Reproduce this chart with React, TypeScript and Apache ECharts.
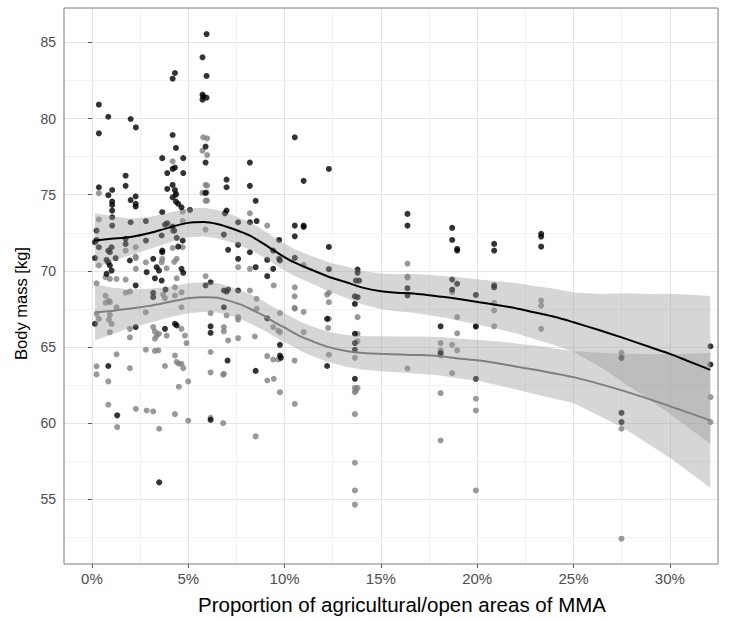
import React, { useEffect, useRef } from 'react';
import * as echarts from 'echarts';

// Axis breaks
const xTicks = [0, 5, 10, 15, 20, 25, 30];
const yTicks = [55, 60, 65, 70, 75, 80, 85];
const xMinor = [2.5, 7.5, 12.5, 17.5, 22.5, 27.5];
const yMinor = [52.5, 57.5, 62.5, 67.5, 72.5, 77.5, 82.5];

// Individual animals: [share of agricultural/open area (%), body mass (kg)]
const darkPoints: number[][] = [
  [5.95, 85.55], [5.74, 84.02], [4.31, 82.99], [5.95, 82.8], [4.19, 82.62], [5.74, 81.57], [5.78, 81.44], [5.95, 81.37], [5.74, 81.24],
  [0.36, 80.91], [0.85, 80.12], [2.01, 79.97], [2.28, 79.42], [0.36, 79.03], [4.19, 78.92], [10.53, 78.77], [5.9, 78.16], [4.36, 78.07],
  [3.65, 77.4], [4.74, 77.4], [5.9, 77.11], [8.2, 77.11], [4.31, 76.78], [4.19, 76.69], [12.3, 76.69], [3.91, 76.42], [4.74, 76.42], [1.75, 76.25],
  [6.99, 75.99], [10.99, 75.91], [4.19, 75.64], [1.75, 75.58], [8.2, 75.58], [0.36, 75.49], [6.99, 75.49], [3.91, 75.38], [1.05, 75.31], [4.31, 75.31],
  [5.9, 75.12], [4.36, 75.05], [0.85, 74.97], [2.27, 74.89], [4.19, 74.83], [2.01, 74.65], [8.5, 74.6], [1.05, 74.55], [4.36, 74.55], [2.27, 74.4], [4.48, 74.4], [1.05, 74.33], [2.27, 74.22], [4.65, 74.17],
  [5.09, 74.0], [1.05, 73.96], [6.99, 73.96], [3.65, 73.85], [6.9, 73.78], [1.05, 73.52], [2.8, 73.27], [8.55, 73.27], [2.01, 73.19], [7.59, 73.19], [8.2, 73.19], [3.91, 73.12], [3.79, 73.04], [1.05, 72.97], [10.53, 72.97], [10.99, 72.97], [4.19, 72.91], [10.99, 72.88],
  [0.24, 72.64], [4.27, 72.64], [6.85, 72.38], [3.62, 72.32], [10.53, 72.27], [4.4, 72.17], [1.75, 72.1], [0.24, 72.03], [9.72, 72.03], [2.8, 71.99], [4.71, 71.99], [0.16, 71.88], [1.75, 71.77], [7.59, 71.71], [4.48, 71.59], [12.3, 71.57], [0.36, 71.55], [1.02, 71.55], [7.07, 71.38], [3.65, 71.33], [0.85, 71.33], [9.41, 71.33], [3.65, 71.22], [8.2, 71.22], [0.93, 71.22],
  [10.53, 70.85], [0.16, 70.84], [1.23, 70.84], [3.18, 70.79], [7.59, 70.79], [9.72, 70.79], [0.76, 70.72], [9.1, 70.72], [1.97, 70.68], [9.76, 70.68], [0.85, 70.56], [0.93, 70.35], [3.36, 70.24], [8.5, 70.24], [4.65, 70.13], [9.41, 70.13], [12.3, 70.11], [13.79, 70.09], [1.02, 70.02], [3.48, 70.02],
  [2.84, 69.91], [4.74, 69.87], [13.79, 69.87], [0.76, 69.8], [9.1, 69.65], [3.27, 69.51], [3.62, 69.36], [13.7, 69.36], [13.87, 69.36], [6.16, 69.25], [2.27, 69.04], [5.9, 69.04], [3.82, 68.77], [7.07, 68.77], [6.85, 68.71], [7.59, 68.71], [6.99, 68.64], [3.18, 68.56], [13.65, 68.33], [3.18, 68.27], [13.79, 68.27],
  [13.65, 67.83], [6.85, 67.61], [9.1, 66.88], [12.21, 66.85], [0.16, 66.52], [4.31, 66.52], [4.4, 66.41], [6.16, 66.36], [2.27, 66.31], [3.79, 66.19], [6.16, 65.93], [13.65, 65.87], [13.65, 65.26], [9.76, 65.14], [13.65, 64.82], [9.76, 64.44], [9.81, 64.29], [7.04, 64.11], [0.85, 63.75], [12.21, 63.75], [8.5, 63.43], [13.65, 62.91], [1.31, 60.51], [6.16, 60.22], [3.49, 56.11],
  [16.38, 73.74], [16.38, 72.97], [16.38, 68.86], [16.38, 68.38],
  [18.7, 72.82], [18.7, 72.03], [18.96, 71.44], [18.96, 71.33], [18.7, 69.43], [18.96, 69.15], [18.7, 68.77], [19.93, 68.42], [18.1, 66.36], [19.93, 66.36], [18.1, 64.59], [19.93, 62.91],
  [20.88, 71.77], [20.88, 71.33], [20.88, 69.04], [20.88, 68.92],
  [23.32, 72.43], [23.32, 72.25], [23.32, 71.59],
  [27.49, 64.29], [27.49, 60.68], [27.49, 60.07],
  [32.11, 65.05], [32.11, 63.85],
];

const lightPoints: number[][] = [
  [5.78, 78.77], [5.98, 78.7], [5.74, 77.89], [5.98, 77.6], [4.19, 77.19], [5.9, 75.64], [5.98, 75.6], [0.36, 75.1], [5.74, 75.12], [5.95, 75.14], [4.36, 74.97], [5.98, 74.61], [5.9, 74.61], [4.71, 73.89], [8.2, 73.78], [0.36, 73.37], [4.71, 73.27], [9.1, 72.97], [5.9, 72.71], [4.19, 72.64],
  [4.71, 71.55], [2.27, 71.55], [4.19, 71.5], [1.75, 71.33], [2.27, 70.94], [2.28, 70.84], [3.65, 70.79], [4.4, 70.79], [4.27, 70.59], [2.8, 70.56], [3.62, 70.56], [16.38, 70.48], [10.99, 70.39], [0.36, 70.35], [7.59, 70.24], [3.88, 70.17], [2.28, 70.13], [8.2, 70.13],
  [5.9, 69.65], [16.38, 69.62], [16.38, 69.56], [0.71, 69.58], [4.4, 69.51], [0.93, 69.47], [1.28, 69.47], [1.75, 69.43], [0.24, 69.18], [9.44, 69.04], [10.53, 68.92], [4.31, 68.92], [8.2, 68.71], [1.97, 68.64], [4.65, 68.59], [18.7, 68.6], [1.75, 68.56], [12.3, 68.56], [3.7, 68.44], [12.21, 68.44], [0.71, 68.36], [4.31, 68.38], [10.52, 68.33], [3.79, 68.2], [8.55, 68.16], [23.32, 68.05], [0.88, 68.03], [0.93, 67.94], [12.3, 67.94], [0.71, 67.9], [20.88, 67.9], [23.32, 67.72],
  [4.65, 67.61], [1.28, 67.61], [10.52, 67.57], [8.55, 67.51], [10.53, 67.51], [20.88, 67.4], [10.99, 67.3], [2.8, 67.28], [6.16, 67.23], [9.76, 67.23], [0.24, 67.18], [0.93, 67.11], [6.99, 67.07], [7.59, 66.96], [13.79, 66.96], [18.96, 66.96], [0.36, 66.85], [12.3, 66.85], [0.88, 66.8], [7.59, 66.8], [1.02, 66.52], [20.88, 66.36], [19.93, 66.33], [6.85, 66.31], [9.41, 66.31], [3.18, 66.31], [12.26, 66.25], [1.97, 66.19], [4.65, 66.19], [23.32, 66.19], [9.67, 66.08], [3.27, 66.02], [6.85, 66.02], [0.93, 65.97], [9.76, 65.97], [10.99, 65.97], [18.96, 65.9], [3.48, 65.87], [13.79, 65.87], [3.36, 65.75], [3.88, 65.75], [4.83, 65.75], [8.46, 65.69], [1.97, 65.63], [7.59, 65.58], [3.27, 65.54], [7.07, 65.43], [13.79, 65.38], [4.91, 65.26], [18.1, 65.26], [18.7, 65.14],
  [2.8, 64.82], [18.1, 64.78], [18.96, 64.78], [3.45, 64.78], [3.27, 64.74], [6.16, 64.67], [18.1, 64.67], [27.49, 64.62], [1.28, 64.52], [12.3, 64.49], [4.31, 64.44], [18.1, 64.44], [9.1, 64.4], [13.65, 64.29], [9.41, 64.18], [9.67, 64.18], [10.52, 64.11], [4.4, 64.02], [16.38, 63.59], [4.51, 63.9], [4.65, 63.9], [0.24, 63.73], [1.97, 63.61], [3.79, 63.75], [4.74, 63.61], [6.16, 63.33], [18.7, 63.28], [0.24, 63.2], [6.85, 63.24], [6.81, 63.18], [9.44, 62.91], [9.1, 62.8], [0.85, 62.74], [5.0, 62.74], [4.51, 62.39], [13.65, 62.32], [13.79, 62.32], [13.7, 62.15], [9.76, 62.03], [13.65, 62.03], [18.1, 61.97], [32.11, 61.71], [19.93, 61.6], [10.53, 61.27], [0.85, 61.21], [2.28, 60.94], [2.84, 60.83], [19.93, 60.83], [3.18, 60.77], [13.65, 60.59], [4.31, 60.59], [6.16, 60.35], [5.0, 60.16], [32.11, 60.07], [6.81, 60.0], [1.31, 59.74], [3.49, 59.63], [27.49, 59.63], [8.5, 59.13], [18.1, 58.86], [13.65, 57.4], [19.93, 55.58], [13.65, 55.58], [13.65, 54.65], [27.49, 52.41],
];

// Loess fits with their confidence bands
const darkFitX = [0.16, 1.0, 2.0, 3.0, 4.0, 5.0, 5.8, 6.5, 7.3, 8.2, 9.0, 9.8, 10.5, 11.5, 12.4, 13.2, 14.1, 15.0, 15.8, 16.7, 17.5, 18.4, 19.3, 20.1, 21.0, 22.0, 23.0, 24.0, 25.0, 26.4, 27.5, 29.0, 30.0, 30.9, 32.1];
const darkFit = [71.99, 72.1, 72.22, 72.48, 72.84, 73.15, 73.2, 73.07, 72.76, 72.31, 71.7, 71.05, 70.55, 70.02, 69.56, 69.25, 68.88, 68.66, 68.56, 68.52, 68.4, 68.27, 68.1, 67.94, 67.76, 67.55, 67.26, 66.98, 66.62, 66.08, 65.63, 64.98, 64.55, 64.1, 63.5];
const darkLower = [70.19, 70.6, 71.02, 71.43, 71.86, 72.2, 72.25, 72.14, 71.85, 71.41, 70.82, 70.17, 69.67, 69.12, 68.6, 68.22, 67.78, 67.49, 67.34, 67.25, 67.08, 66.9, 66.66, 66.44, 66.21, 65.9, 65.51, 65.13, 64.67, 63.68, 62.73, 61.48, 60.6, 59.75, 58.65];
const darkUpper = [73.79, 73.6, 73.42, 73.53, 73.82, 74.1, 74.15, 74.0, 73.67, 73.21, 72.58, 71.93, 71.43, 70.92, 70.52, 70.28, 69.98, 69.83, 69.78, 69.79, 69.72, 69.64, 69.54, 69.44, 69.31, 69.2, 69.01, 68.83, 68.57, 68.48, 68.53, 68.48, 68.5, 68.45, 68.35];

const lightFitX = [0.16, 1.0, 2.0, 3.0, 4.0, 5.0, 5.8, 6.5, 7.0, 7.7, 8.2, 8.9, 9.4, 10.1, 10.8, 11.4, 12.3, 13.2, 14.1, 15.0, 16.0, 17.0, 18.0, 19.0, 20.1, 21.2, 22.3, 23.0, 25.0, 27.5, 30.0, 32.1];
const lightFit = [67.28, 67.36, 67.53, 67.7, 67.95, 68.2, 68.27, 68.24, 68.08, 67.8, 67.51, 67.07, 66.68, 66.2, 65.72, 65.4, 64.99, 64.74, 64.6, 64.55, 64.51, 64.47, 64.4, 64.25, 64.11, 63.9, 63.65, 63.5, 63.02, 62.15, 61.12, 60.18];
const lightLower = [65.43, 65.81, 66.28, 66.58, 66.95, 67.21, 67.29, 67.27, 67.12, 66.85, 66.56, 66.12, 65.73, 65.25, 64.77, 64.43, 63.99, 63.7, 63.5, 63.4, 63.33, 63.25, 63.15, 62.95, 62.76, 62.45, 62.12, 61.9, 61.32, 59.75, 57.72, 55.76];
const lightUpper = [69.13, 68.91, 68.78, 68.82, 68.95, 69.19, 69.25, 69.21, 69.04, 68.75, 68.46, 68.02, 67.63, 67.15, 66.67, 66.37, 65.99, 65.78, 65.7, 65.7, 65.69, 65.69, 65.65, 65.55, 65.46, 65.35, 65.18, 65.1, 64.72, 64.55, 64.52, 64.6];

const FONT = '"Liberation Sans", Arial, Helvetica, sans-serif';
const RIBBON = 'rgba(153,153,153,0.4)';

function ribbon(xs: number[], lo: number[], hi: number[]) {
  return {
    type: 'custom',
    z: 3,
    silent: true,
    data: xs.map((x, i) => [x, lo[i], hi[i]]),
    encode: { x: 0, y: [1, 2] },
    renderItem: (params: any, api: any) => {
      if (params.dataIndex !== 0) return { type: 'group', children: [] };
      const pts: number[][] = [];
      for (let i = 0; i < xs.length; i++) pts.push(api.coord([xs[i], hi[i]]));
      for (let i = xs.length - 1; i >= 0; i--) pts.push(api.coord([xs[i], lo[i]]));
      return { type: 'polygon', shape: { points: pts }, style: { fill: RIBBON } };
    },
  };
}

function fitLine(xs: number[], ys: number[], color: string) {
  return {
    type: 'line',
    z: 4,
    silent: true,
    showSymbol: false,
    smooth: 0.3,
    data: xs.map((x, i) => [x, ys[i]]),
    lineStyle: { color, width: 2 },
  };
}

export default function App() {
  const ref = useRef<HTMLDivElement>(null);

  useEffect(() => {
    if (!ref.current) return;
    const chart = echarts.init(ref.current, undefined, { renderer: 'svg' });
    chart.setOption({
      animation: false,
      backgroundColor: '#ffffff',
      grid: {
        left: 64,
        right: 15,
        top: 8,
        bottom: 56,
        show: true,
        z: 10,
        backgroundColor: 'transparent',
        borderColor: '#7a7a7a',
        borderWidth: 1,
      },
      xAxis: {
        type: 'value',
        min: -1.45,
        max: 32.5,
        splitNumber: 7,
        axisLine: { show: false },
        axisTick: { show: true, length: 4, lineStyle: { color: '#555555' }, customValues: xTicks },
        axisLabel: {
          color: '#4d4d4d',
          fontSize: 15,
          fontFamily: FONT,
          margin: 7,
          customValues: xTicks,
          formatter: (v: number) => `${v}%`,
        },
        splitLine: { show: true, lineStyle: { color: '#e4e4e4', width: 1 } },
        name: 'Proportion of agricultural/open areas of MMA',
        nameLocation: 'middle',
        nameGap: 30,
        nameTextStyle: { fontSize: 20.5, color: '#000000', fontFamily: FONT, padding: [0, 0, 0, 22] },
      },
      yAxis: {
        type: 'value',
        min: 50.75,
        max: 87.26,
        splitNumber: 7,
        axisLine: { show: false },
        axisTick: { show: true, length: 4, lineStyle: { color: '#555555' }, customValues: yTicks },
        axisLabel: {
          color: '#4d4d4d',
          fontSize: 14,
          fontFamily: FONT,
          margin: 8,
          customValues: yTicks,
          formatter: (v: number) => `${v}`,
        },
        splitLine: { show: true, lineStyle: { color: '#e4e4e4', width: 1 } },
        name: 'Body mass [kg]',
        nameLocation: 'middle',
        nameGap: 34,
        nameTextStyle: { fontSize: 16.5, color: '#000000', fontFamily: FONT, padding: [0, 35, 0, 0] },
      },
      series: [
        {
          type: 'scatter',
          z: 2,
          silent: true,
          symbolSize: 6,
          itemStyle: { color: '#7f7f7f' },
          data: lightPoints,
          markLine: {
            z: 1,
            silent: true,
            symbol: ['none', 'none'],
            label: { show: false },
            emphasis: { disabled: true },
            lineStyle: { color: '#f2f2f2', width: 1, type: 'solid' },
            data: [
              ...xMinor.map((v) => ({ xAxis: v })),
              ...yMinor.map((v) => ({ yAxis: v })),
            ],
          },
        },
        {
          type: 'scatter',
          z: 2,
          silent: true,
          symbolSize: 6,
          itemStyle: { color: '#000000' },
          data: darkPoints,
        },
        ribbon(darkFitX, darkLower, darkUpper),
        ribbon(lightFitX, lightLower, lightUpper),
        fitLine(darkFitX, darkFit, '#000000'),
        fitLine(lightFitX, lightFit, '#7f7f7f'),
      ],
    });
    return () => chart.dispose();
  }, []);

  return (
    <div
      ref={ref}
      style={{ position: 'fixed', left: 0, top: 0, width: 733, height: 620, background: '#ffffff' }}
    />
  );
}
